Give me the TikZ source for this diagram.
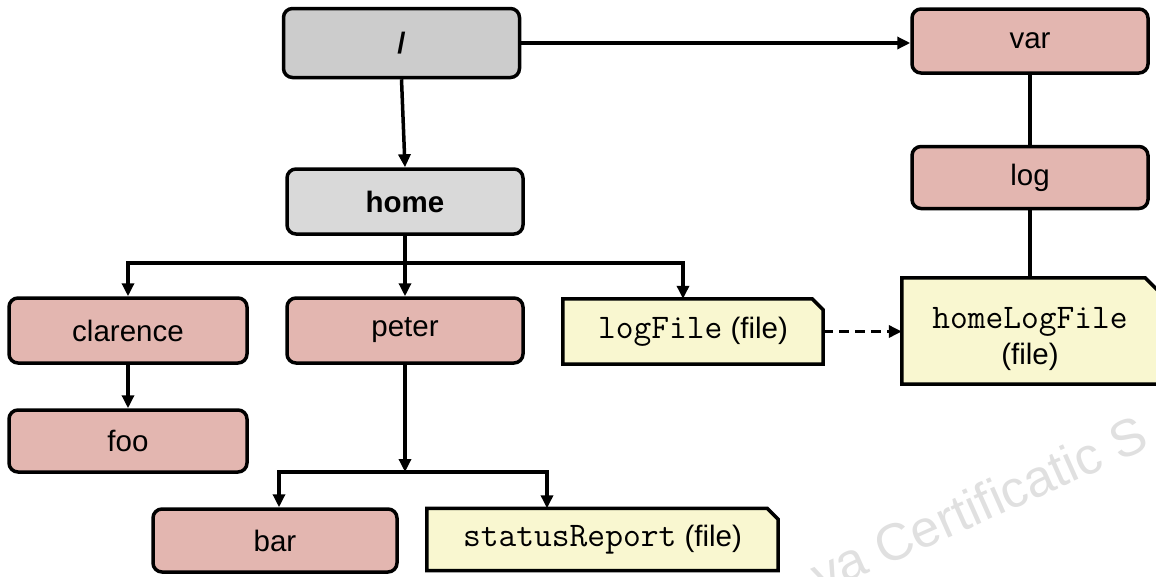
\documentclass[tikz,border=0pt]{standalone}
\usepackage{fontspec}
\setmainfont{Liberation Sans}
\usetikzlibrary{arrows.meta,backgrounds}
\definecolor{dirgray}{HTML}{CCCCCC}
\definecolor{homegray}{HTML}{D9D9D9}
\definecolor{dirred}{HTML}{E3B6B0}
\definecolor{fileyel}{HTML}{F9F7D0}
\definecolor{wmark}{HTML}{E0E0E0}
\newcommand{\fmono}[1]{{\fontsize{34.5}{36}\selectfont\ttfamily #1}}
\begin{document}
\begin{tikzpicture}[x=1pt,y=-1pt,
  txt/.style={font=\fontsize{29.5}{36}\selectfont},
  box/.style={txt, draw=black, line width=3.5pt, rounded corners=9pt,
    minimum width=236pt, minimum height=65pt, inner sep=0pt},
  dirbox/.style={box, fill=dirred},
  graybox/.style={box, fill=dirgray},
  filebox/.style={txt, inner sep=0pt},
  filedraw/.style={draw=black, fill=fileyel, line width=3.5pt, line join=miter},
  conn/.style={line width=3.5pt},
  arr/.style={conn, -{Triangle[length=13pt,width=12pt]}},
]
\useasboundingbox (0,0) rectangle (1156,576);
\clip (0,0) rectangle (1156,576);

% directory nodes
\node[graybox, minimum height=69pt, font=\fontsize{29.5}{36}\selectfont\bfseries] (root) at (401.5,43) {/};
\node[graybox, fill=homegray, font=\fontsize{29.5}{36}\selectfont\bfseries] (home) at (405,201.5) {home};
\node[dirbox, minimum height=64pt] (var) at (1030,41) {var};
\node[dirbox, minimum height=62pt] (log) at (1030,177.5) {log};
\node[dirbox, minimum width=238pt] (clarence) at (128,330.5) {clarence};
\node[dirbox, minimum width=238pt, minimum height=62pt] (foo) at (128,441) {foo};
\node[dirbox] (peter) at (405,330.5) {peter};
\node[dirbox, minimum width=244pt, minimum height=63pt] (bar) at (275,540.5) {bar};

% file nodes
\node[filebox, minimum width=260pt, minimum height=65pt] (logfile) at (693,331.5) {\fmono{logFile} (file)};
\node[filebox, minimum width=351pt, minimum height=62pt] (status) at (602.5,539.5) {\fmono{statusReport} (file)};
\node[filebox, minimum width=256pt, minimum height=106pt, align=center] (hlf) at (1030,331)
  {\rule{0pt}{38pt}\fmono{homeLogFile}\\(file)};

\begin{scope}[on background layer]
  \node[rotate=24, anchor=base west, text=wmark, font=\fontsize{52}{54}\selectfont] (wm) at (818,596) {va Certificatic S};
  \draw[filedraw] (logfile.south west) -- (logfile.north west) -- ([xshift=-11pt]logfile.north east)
    -- ([yshift=-11pt]logfile.north east) -- (logfile.south east) -- cycle;
  \draw[filedraw] (status.south west) -- (status.north west) -- ([xshift=-11pt]status.north east)
    -- ([yshift=-11pt]status.north east) -- (status.south east) -- cycle;
  \draw[filedraw] (hlf.south west) -- (hlf.north west) -- ([xshift=-13pt]hlf.north east)
    -- ([yshift=-13pt]hlf.north east) -- (hlf.south east) -- cycle;
\end{scope}

% connectors
\draw[arr] (root.east) -- (root.east -| var.west);
\draw[arr] (root.south) -- (home.north);
\draw[conn] (var.south) -- (log.north);
\draw[conn] (log.south) -- (log.south |- hlf.north);

\coordinate (b1) at (405,263);
\draw[conn] (home.south) -- (b1);
\draw[arr] (b1) -| (clarence.north);
\draw[arr] (b1) -- (peter.north);
\draw[arr] (b1) -| ([xshift=-10pt]logfile.north);
\draw[arr] (clarence.south) -- (foo.north);

\coordinate (b2) at (405,472);
\draw[arr] (peter.south) -- (b2);
\draw[arr] (b2) -| ([xshift=4pt]bar.north);
\draw[arr] (b2) -| ([xshift=-55.5pt]status.north);

\draw[arr, dash pattern=on 10pt off 6pt] (logfile.east) -- (logfile.east -| hlf.west);
\end{tikzpicture}
\end{document}
